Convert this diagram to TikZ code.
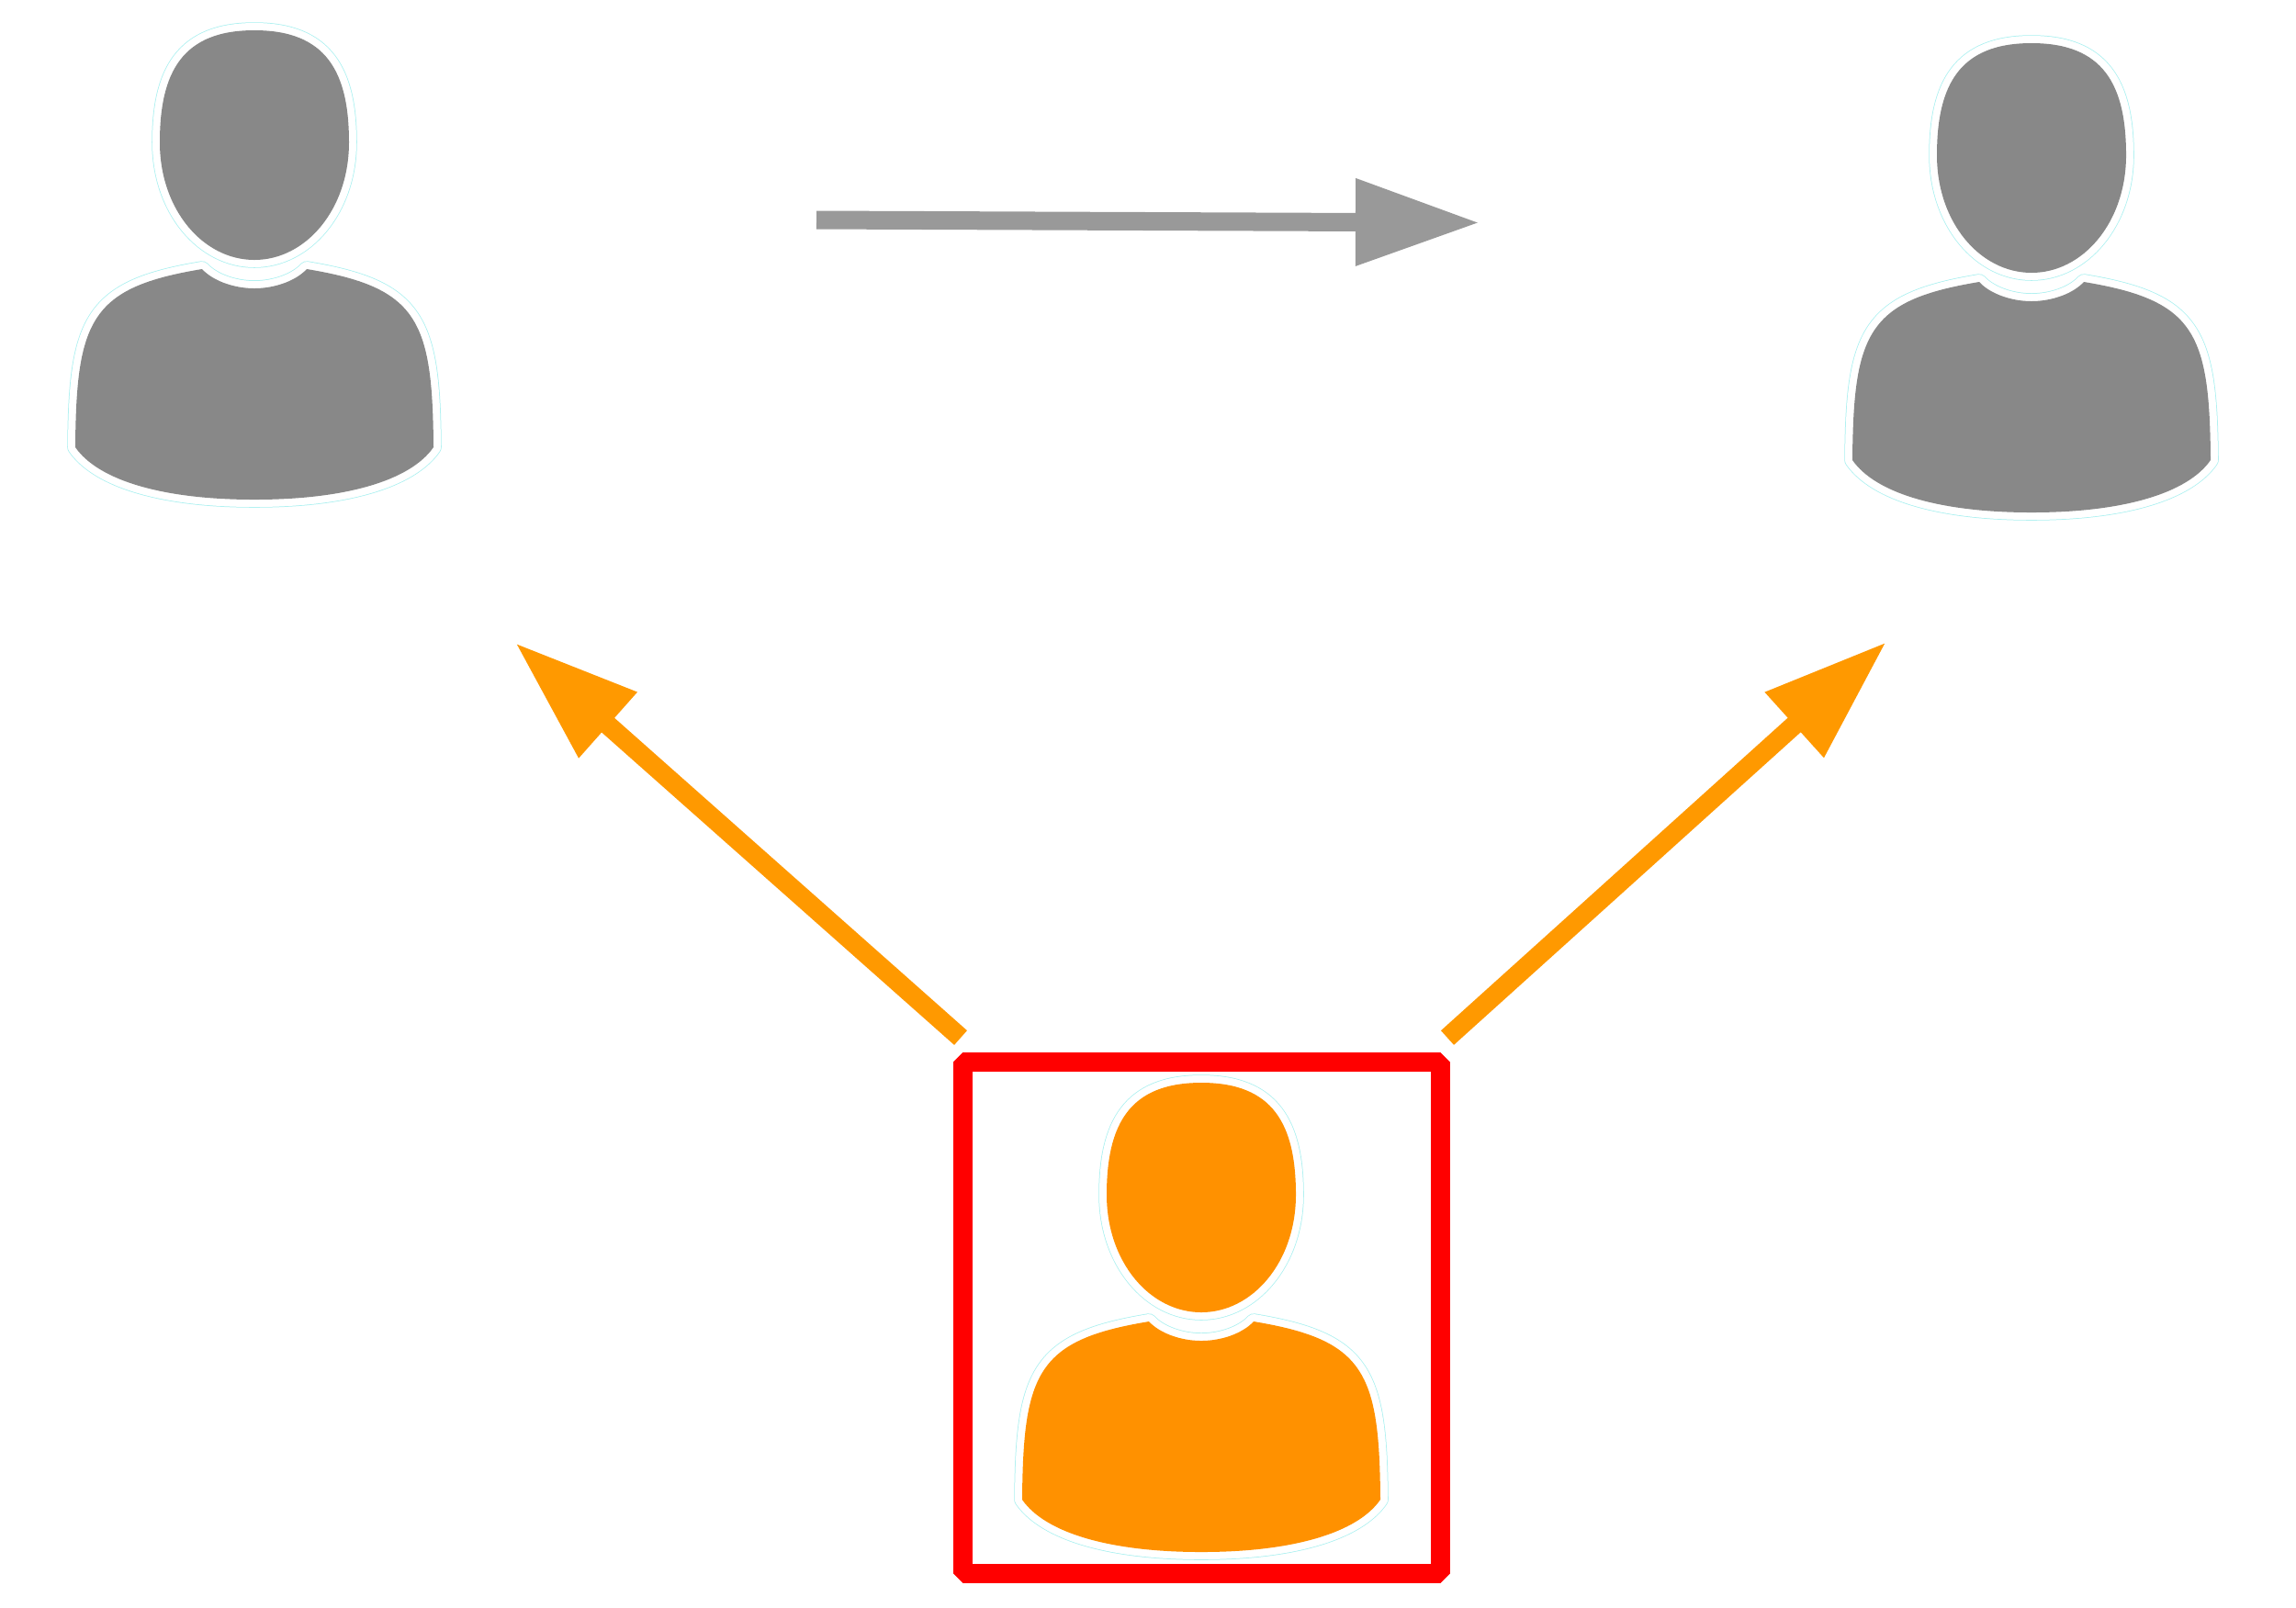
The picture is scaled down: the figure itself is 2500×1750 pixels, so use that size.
\documentclass[tikz,border=0pt]{standalone}
\usetikzlibrary{arrows.meta}
\definecolor{usergray}{HTML}{888888}
\definecolor{userorange}{HTML}{FF9100}
\definecolor{arroworange}{HTML}{FF9900}
\definecolor{arrowgray}{HTML}{999999}
\definecolor{useredge}{HTML}{A8F0F0}
\begin{document}
\begin{tikzpicture}[x=0.01cm,y=-0.01cm,inner sep=0pt,outer sep=0pt,
edged/.style={preaction={draw=useredge,line width=0.175cm,line join=round},
              preaction={draw=white,line width=0.16cm,line join=round}},
user/.pic={
  \fill[edged,#1] (0,0) .. controls (78,0) and (103,45) .. (103,122)
        .. controls (103,195) and (56,250) .. (0,250)
        .. controls (-56,250) and (-103,195) .. (-103,122)
        .. controls (-103,45) and (-78,0) .. (0,0) -- cycle
     (57,260) .. controls (45,273) and (22,281) .. (0,281)
        .. controls (-22,281) and (-45,273) .. (-57,260)
        .. controls (-178,280) and (-194,315) .. (-195,454)
        .. controls (-170,490) and (-100,511) .. (0,511)
        .. controls (100,511) and (170,490) .. (195,454)
        .. controls (194,315) and (178,280) .. (57,260) -- cycle;
},
flowarrow/.style={line width=0.2cm,-{Triangle[length=1.35cm,width=0.9cm]}},
focusbox/.style={draw=red,rectangle,line width=0.21cm,line join=bevel,minimum width=5.2cm,minimum height=5.57cm}]
\useasboundingbox (0,0) rectangle (2500,1750);

\node[focusbox] (focus) at (1308.5,1435) {};
\pic at (277,33) {user=usergray};
\pic at (2212,47) {user=usergray};
\pic at (1308,1179) {user=userorange};

\coordinate (grayfrom) at (889,239.5);
\coordinate (grayto) at (1611,242.5);
\coordinate (leftfrom) at (1046,1130);
\coordinate (leftto) at (561,700);
\coordinate (rightfrom) at (1576,1130);
\coordinate (rightto) at (2054,699);

\draw[flowarrow,arrowgray] (grayfrom) -- (grayto);
\draw[flowarrow,arroworange,line width=0.21cm] (leftfrom) -- (leftto);
\draw[flowarrow,arroworange,line width=0.21cm] (rightfrom) -- (rightto);
\end{tikzpicture}
\end{document}
